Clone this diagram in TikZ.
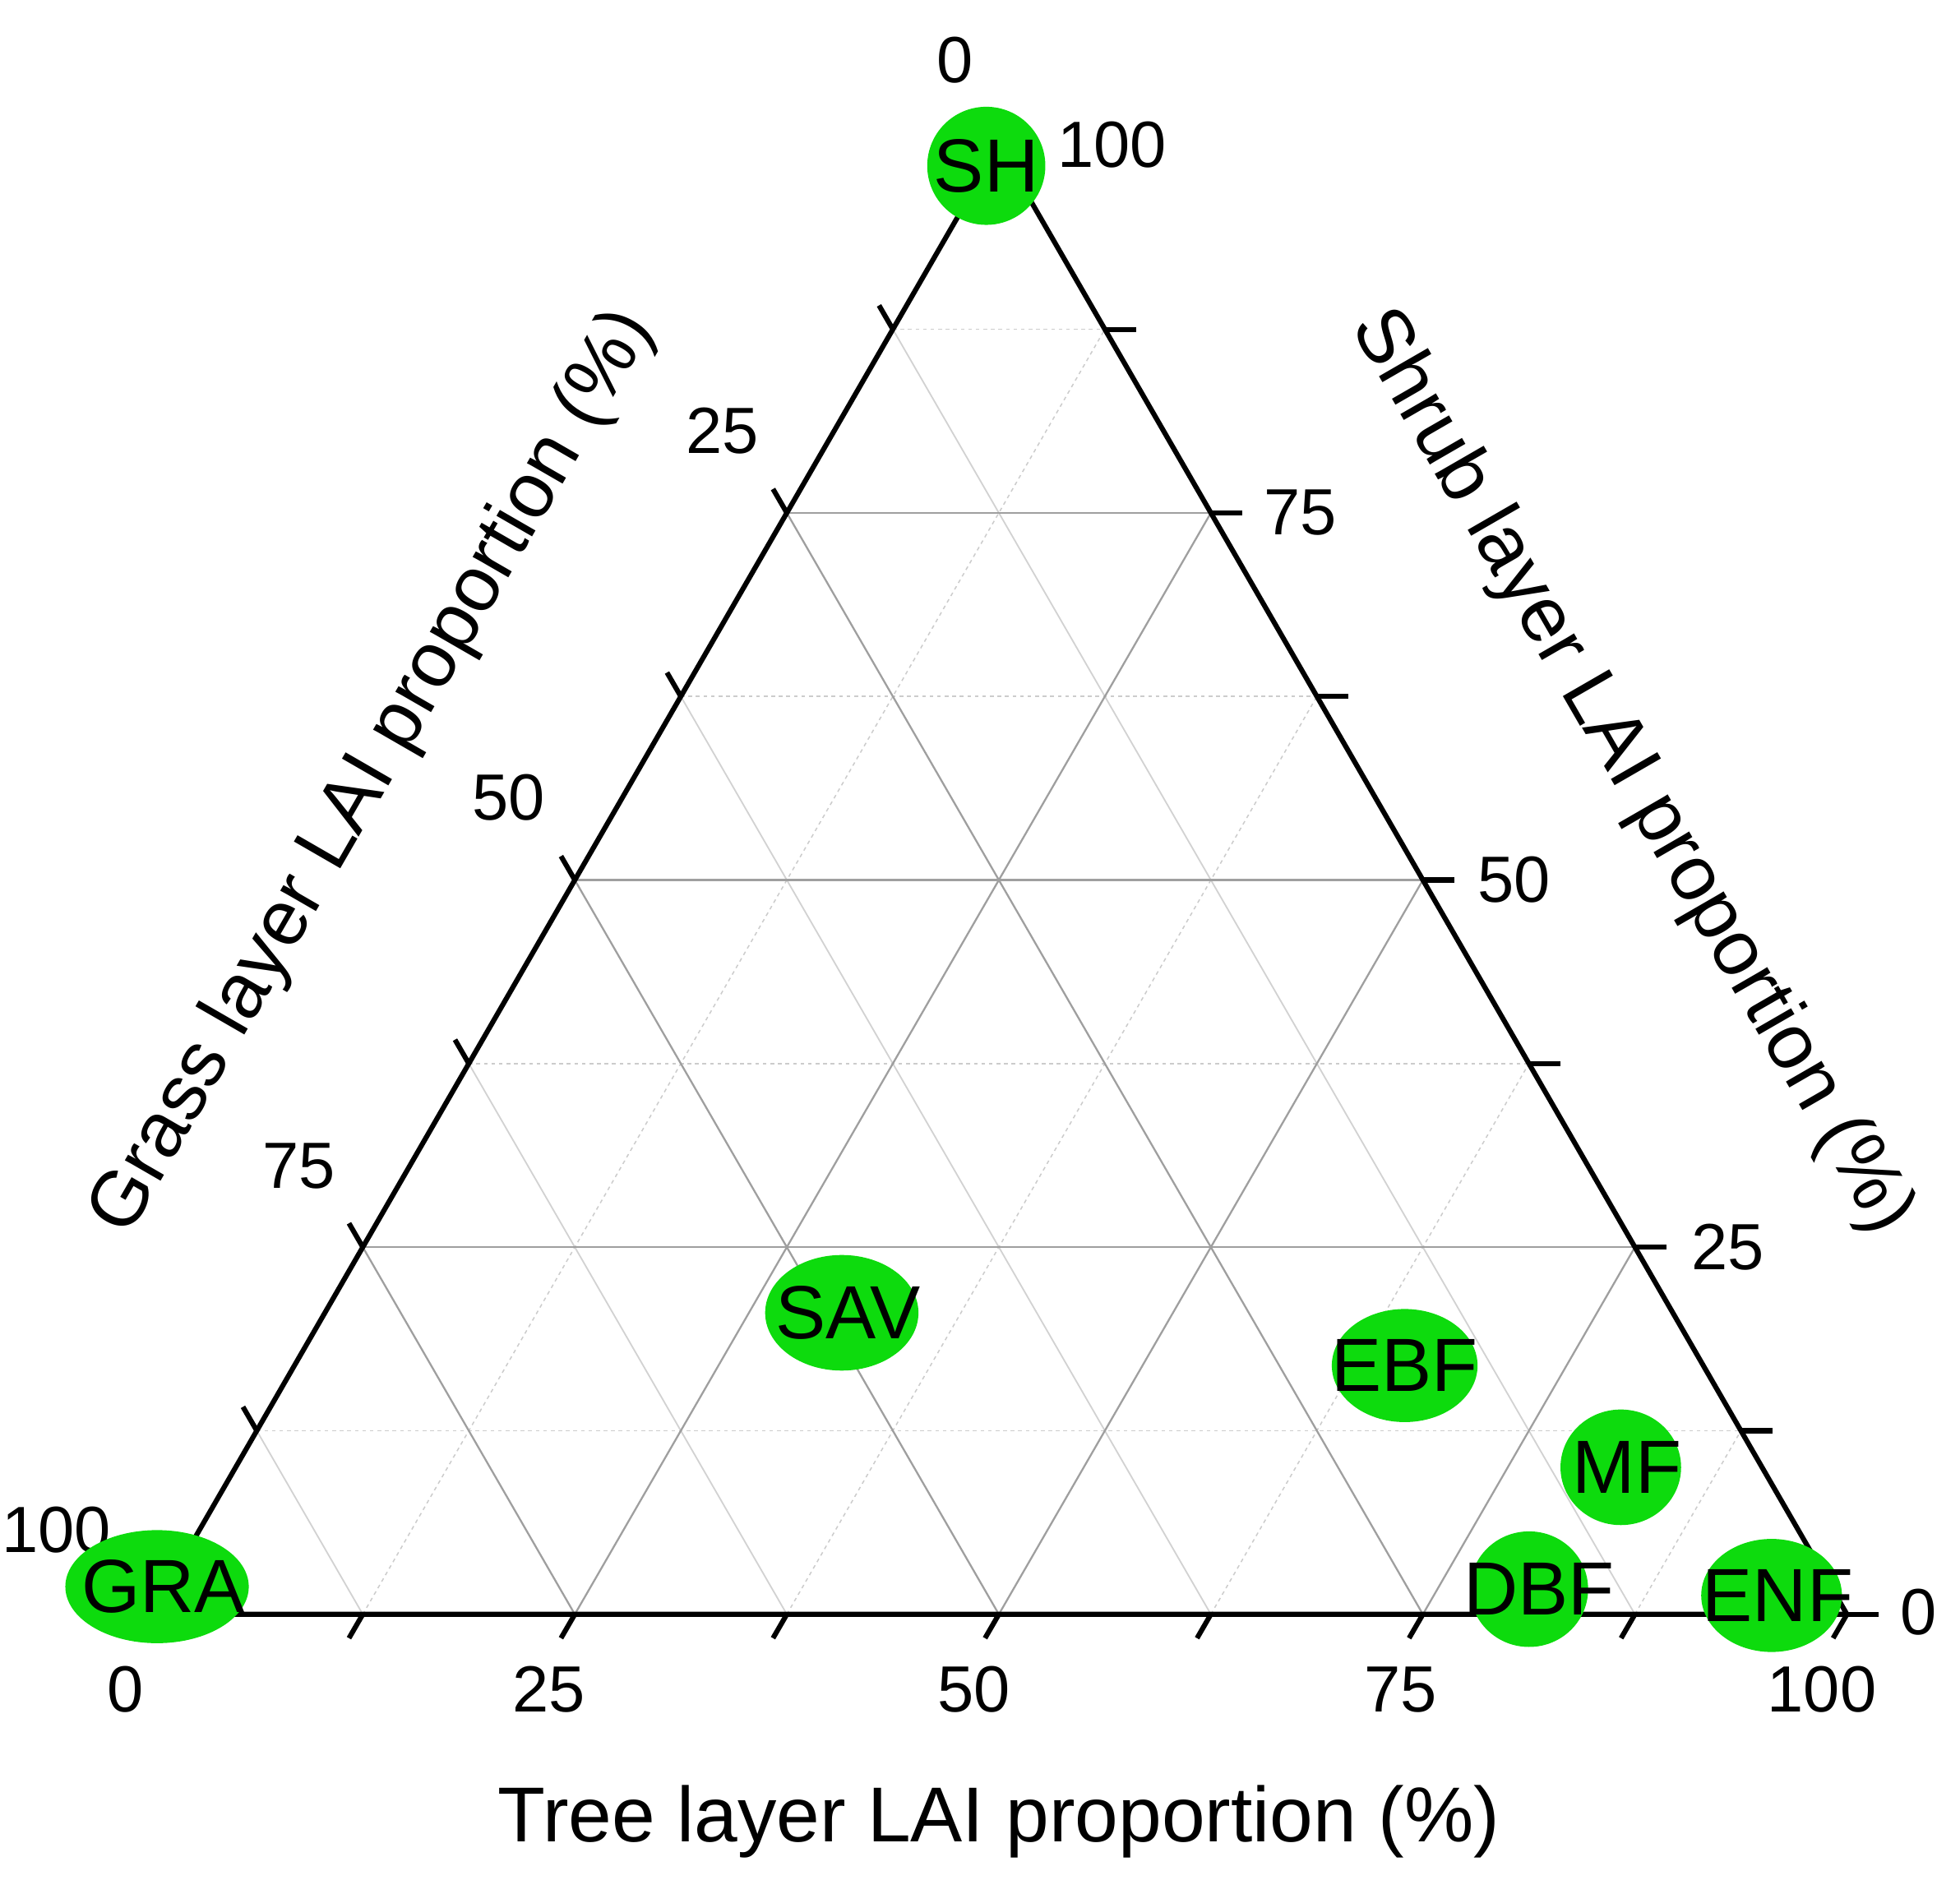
\documentclass[tikz,border=0pt]{standalone}
\usepackage{fontspec}
\setmainfont{Liberation Sans}
\usetikzlibrary{shapes.geometric}
\begin{document}
\begin{tikzpicture}[x=1pt,y=-1pt,
  major/.style={draw=gray!75,line width=1.5pt},
  minorsolid/.style={draw=gray!35,line width=1.2pt},
  minordash/.style={draw=gray!40,line width=1pt,dashed},
  axis/.style={draw=black,line width=4pt},
  tick/.style={draw=black,line width=4pt},
  lab/.style={font=\fontsize{52}{52}\selectfont},
  ttl/.style={font=\fontsize{62}{62}\selectfont},
  ptfill/.style={fill=green!85!black!95},
  pt/.style={inner sep=0pt,font=\fontsize{60}{60}\selectfont}]
\useasboundingbox (0,0) rectangle (1560,1496);
\def\X#1#2{{120+1350*(#1)+675*(#2)}}
\def\Y#1{{1285-1169*(#1)}}
% grid
\foreach \k in {1,3,5,7}{
  \pgfmathsetmacro\v{\k/8}
  \draw[minordash] (\X{\v}{0},\Y{0}) -- (\X{\v}{1-\v},\Y{1-\v});
  \draw[minordash] (\X{0}{\v},\Y{\v}) -- (\X{1-\v}{\v},\Y{\v});
  \draw[minorsolid] (\X{1-\v}{0},\Y{0}) -- (\X{0}{1-\v},\Y{1-\v});
}
\foreach \k in {1,2,3}{
  \pgfmathsetmacro\v{\k/4}
  \draw[major] (\X{\v}{0},\Y{0}) -- (\X{\v}{1-\v},\Y{1-\v});
  \draw[major] (\X{0}{\v},\Y{\v}) -- (\X{1-\v}{\v},\Y{\v});
  \draw[major] (\X{1-\v}{0},\Y{0}) -- (\X{0}{1-\v},\Y{1-\v});
}
\coordinate (BL) at (120,1285);
\coordinate (BR) at (1470,1285);
\coordinate (TP) at (795,116);
\draw[axis,line join=miter] (BL) -- (BR) -- (TP) -- cycle;
\foreach \k in {0,...,8}{
  \pgfmathsetmacro\v{\k/8}
  \draw[tick] (\X{\v}{0},\Y{0}) -- ++(-11,19);
  \draw[tick] (\X{1-\v}{\v},\Y{\v}) -- ++(25,0);
  \draw[tick] (\X{0}{\v},\Y{\v}) -- ++(-11,-19);
}
% tick labels
\node[lab] (b0) at (100,1345) {0};
\node[lab] (b25) at (437,1345) {25};
\node[lab] (b50) at (775,1345) {50};
\node[lab] (b75) at (1115,1345) {75};
\node[lab] (b100) at (1450,1345) {100};
\node[lab] (r0) at (1527,1283) {0};
\node[lab] (r25) at (1375,993) {25};
\node[lab] (r50) at (1205,700) {50};
\node[lab] (r75) at (1035,408) {75};
\node[lab] (r100) at (885,115) {100};
\node[lab] (l0) at (760,48) {0};
\node[lab] (l25) at (575,343) {25};
\node[lab] (l50) at (405,635) {50};
\node[lab] (l75) at (238,928) {75};
\node[lab] (l100) at (45,1218) {100};
% titles
\node[ttl] (tt) at (795,1450) {Tree layer LAI proportion (\%)};
\node[ttl,rotate=60] (gt) at (297,615) {Grass layer LAI proportion (\%)};
\node[ttl,rotate=-60] (st) at (1298,615) {Shrub layer LAI proportion (\%)};
% points
\fill[ptfill] (785,132) ellipse [x radius=47, y radius=47];
\fill[ptfill] (670,1045) ellipse [x radius=61, y radius=46];
\fill[ptfill] (1118,1087) ellipse [x radius=58, y radius=45];
\fill[ptfill] (1290,1168) ellipse [x radius=48, y radius=46];
\fill[ptfill] (1217,1265) ellipse [x radius=47, y radius=46];
\fill[ptfill] (1410,1270) ellipse [x radius=56, y radius=45];
\fill[ptfill] (125,1263) ellipse [x radius=73, y radius=45];
\node[pt] (SH) at (785,132) {SH};
\node[pt] (SAV) at (675,1045) {SAV};
\node[pt] (EBF) at (1118,1087) {EBF};
\node[pt] (MF) at (1295,1168) {MF};
\node[pt] (DBF) at (1225,1265) {DBF};
\node[pt] (ENF) at (1415,1270) {ENF};
\node[pt] (GRA) at (130,1263) {GRA};
\end{tikzpicture}
\end{document}
